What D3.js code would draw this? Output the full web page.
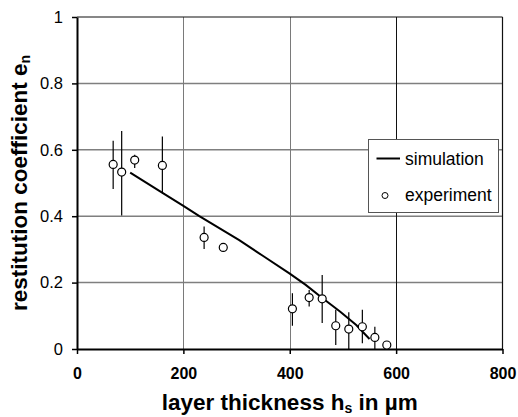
<!DOCTYPE html>
<html>
<head>
<meta charset="utf-8">
<script src="https://cdn.jsdelivr.net/npm/d3@7"></script>
<style>
  html, body { margin: 0; padding: 0; background: #fff; }
  svg { display: block; font-family: "Liberation Sans", Arial, sans-serif; }
</style>
</head>
<body>
<svg id="chart" width="518" height="417"></svg>
<script>
// Experimental restitution coefficients with error bars
const expThickness = [68, 84, 108.5, 160.5, 239, 275, 405, 436.5, 461, 486.5, 511, 536.5, 560, 582.5];
const expCoeff     = [0.556, 0.533, 0.569, 0.553, 0.336, 0.306, 0.121, 0.155, 0.151, 0.070, 0.060, 0.067, 0.035, 0.012];
const expLow       = [0.482, 0.402, 0.545, 0.470, 0.301, 0.293, 0.070, 0.128, 0.078, 0.012, 0.000, 0.017, 0.000, 0.012];
const expHigh      = [0.627, 0.657, 0.585, 0.640, 0.369, 0.318, 0.168, 0.178, 0.223, 0.118, 0.111, 0.118, 0.067, 0.012];

// Simulated curve
const simThickness = [100, 160, 200, 230, 280, 305, 350, 400, 430, 460, 495, 525, 550];
const simCoeff     = [0.531, 0.471, 0.431, 0.400, 0.352, 0.328, 0.280, 0.227, 0.193, 0.155, 0.112, 0.072, 0.030];

// Axis ticks
const xTicks = [0, 200, 400, 600, 800];
const xTickLabels = ["0", "200", "400", "600", "800"];
const yTicks = [0, 0.2, 0.4, 0.6, 0.8, 1];
const yTickLabels = ["0", "0.2", "0.4", "0.6", "0.8", "1"];

const svg = d3.select("#chart");
const x = d3.scaleLinear().domain([0, 800]).range([77, 502.5]);
const y = d3.scaleLinear().domain([0, 1]).range([349, 17]);

// Grid
const grid = svg.append("g");
grid.selectAll("line.h").data(yTicks.filter(v => v > 0 && v < 1)).join("line")
  .attr("x1", x(0)).attr("x2", x(800))
  .attr("y1", d => y(d)).attr("y2", d => y(d))
  .attr("stroke", "#7f7f7f").attr("stroke-width", 1.5);
grid.selectAll("line.v").data(xTicks.filter(v => v > 0 && v < 800)).join("line")
  .attr("x1", d => Math.round(x(d)) + 0.5).attr("x2", d => Math.round(x(d)) + 0.5)
  .attr("y1", y(1)).attr("y2", y(0))
  .attr("stroke", d => d === 600 ? "#111" : "#7a7a7a").attr("stroke-width", 1);

// Frame: top and right edges
svg.append("line").attr("x1", x(0)).attr("x2", x(800)).attr("y1", y(1)).attr("y2", y(1))
  .attr("stroke", "#111").attr("stroke-width", 1.2);
svg.append("line").attr("x1", x(800)).attr("x2", x(800)).attr("y1", y(1)).attr("y2", y(0))
  .attr("stroke", "#111").attr("stroke-width", 1.2);

// Axes
const xAxis = d3.axisBottom(x).tickValues(xTicks)
  .tickFormat((d, i) => xTickLabels[i]).tickSize(5).tickPadding(14).tickSizeOuter(0);
const gx = svg.append("g").attr("transform", `translate(0,${y(0)})`).call(xAxis);
gx.select(".domain").attr("stroke", "#000").attr("stroke-width", 2);
gx.selectAll(".tick line").attr("stroke", "#000").attr("stroke-width", 1.5);
gx.selectAll(".tick text").attr("fill", "#000").attr("font-size", 16).attr("font-weight", "bold")
  .attr("font-family", "Liberation Sans, Arial, sans-serif");

const yAxis = d3.axisLeft(y).tickValues(yTicks)
  .tickFormat((d, i) => yTickLabels[i]).tickSize(5).tickPadding(9).tickSizeOuter(0);
const gy = svg.append("g").attr("transform", `translate(${x(0)},0)`).call(yAxis);
gy.select(".domain").attr("stroke", "#000").attr("stroke-width", 2);
gy.selectAll(".tick line").attr("stroke", "#000").attr("stroke-width", 1.5);
gy.selectAll(".tick text").attr("fill", "#000").attr("font-size", 16.5)
  .attr("font-family", "Liberation Sans, Arial, sans-serif");

// Simulation curve
const line = d3.line().x((d, i) => x(simThickness[i])).y(d => y(d));
svg.append("path").datum(simCoeff).attr("d", line)
  .attr("fill", "none").attr("stroke", "#000").attr("stroke-width", 2);

// Error bars
svg.append("g").selectAll("line").data(expThickness).join("line")
  .attr("x1", d => x(d)).attr("x2", d => x(d))
  .attr("y1", (d, i) => y(expLow[i])).attr("y2", (d, i) => y(expHigh[i]))
  .attr("stroke", "#000").attr("stroke-width", 1.2);

// Experimental points
svg.append("g").selectAll("circle").data(expThickness).join("circle")
  .attr("cx", d => x(d)).attr("cy", (d, i) => y(expCoeff[i])).attr("r", 4)
  .attr("fill", "#fff").attr("stroke", "#000").attr("stroke-width", 1.2);

// Legend
const lg = svg.append("g");
lg.append("rect").attr("x", 368.5).attr("y", 139.5).attr("width", 130).attr("height", 73)
  .attr("fill", "#fff").attr("stroke", "#555").attr("stroke-width", 1);
lg.append("line").attr("x1", 376.5).attr("x2", 400).attr("y1", 158.5).attr("y2", 158.5)
  .attr("stroke", "#000").attr("stroke-width", 2);
lg.append("text").attr("x", 405).attr("y", 165).attr("font-size", 17.5).text("simulation");
lg.append("circle").attr("cx", 385).attr("cy", 195.5).attr("r", 3)
  .attr("fill", "#fff").attr("stroke", "#000").attr("stroke-width", 1);
lg.append("text").attr("x", 405).attr("y", 201).attr("font-size", 17.5).text("experiment");

// Axis titles
const xt = svg.append("text").attr("x", (x(0) + x(800)) / 2).attr("y", 410)
  .attr("text-anchor", "middle").attr("font-size", 22.5).attr("font-weight", "bold");
xt.append("tspan").text("layer thickness h");
xt.append("tspan").attr("font-size", 14).attr("dy", 3).text("s");
xt.append("tspan").attr("dy", -3).text(" in µm");

const yt = svg.append("text")
  .attr("transform", `translate(27,${(y(0) + y(1)) / 2}) rotate(-90)`)
  .attr("text-anchor", "middle").attr("font-size", 22.5).attr("font-weight", "bold");
yt.append("tspan").text("restitution coefficient e");
yt.append("tspan").attr("font-size", 14).attr("dy", 3).text("n");
</script>
</body>
</html>
